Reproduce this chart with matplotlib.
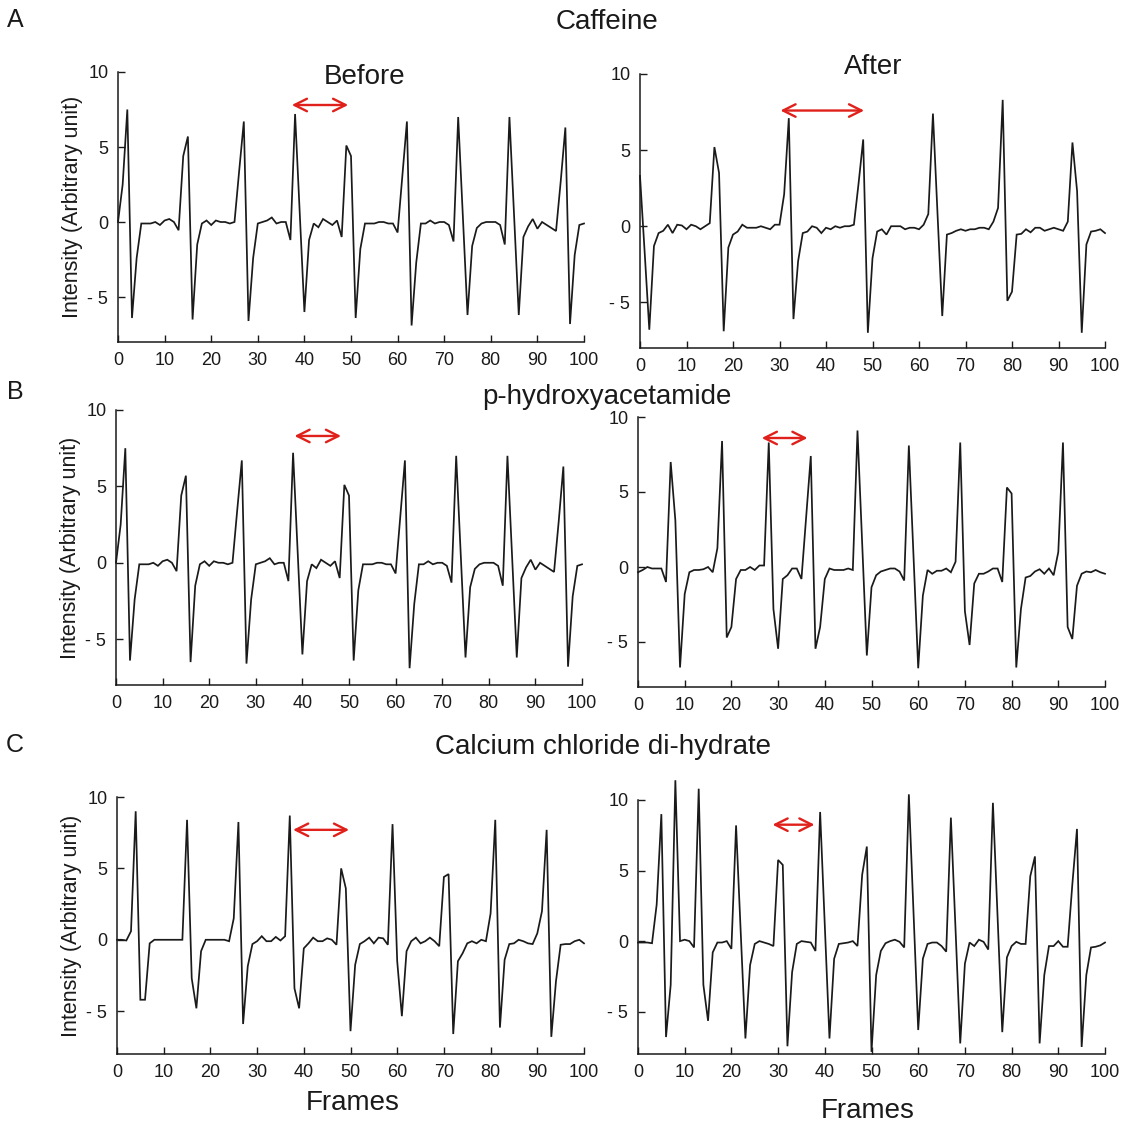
import matplotlib
matplotlib.use("Agg")
import matplotlib.pyplot as plt

plt.rcParams['font.family'] = ['Liberation Sans', 'DejaVu Sans']

# ---------------- data ----------------
frames = list(range(101))

caffeine_before = [
    0.0, 2.5, 7.5, -6.4, -2.4, -0.1, -0.1, -0.1, 0.0, -0.2,
    0.1, 0.2, 0.0, -0.55, 4.4, 5.7, -6.5, -1.5, -0.1, 0.1,
    -0.2, 0.1, 0.0, 0.0, -0.1, 0.0, 3.4, 6.7, -6.6, -2.4,
    -0.1, 0.0, 0.1, 0.3, -0.1, 0.0, 0.0, -1.2, 7.2, 0.6,
    -6.0, -1.2, -0.1, -0.35, 0.2, 0.0, -0.2, 0.1, -1.0, 5.1,
    4.4, -6.4, -1.8, -0.1, -0.1, -0.1, 0.0, 0.0, -0.1, -0.1,
    -0.7, 3.0, 6.7, -6.9, -2.7, -0.1, -0.1, 0.1, -0.1, 0.0,
    0.0, -0.2, -1.3, 7.0, 0.4, -6.2, -1.6, -0.4, -0.1, 0.0,
    0.0, 0.0, -0.2, -1.5, 7.0, 0.4, -6.2, -1.0, -0.3, 0.2,
    -0.45, 0.0, -0.2, -0.4, -0.6, 2.7, 6.3, -6.8, -2.2, -0.2,
    -0.1]

caffeine_after = [
    3.3, -1.7, -6.8, -1.3, -0.45, -0.3, 0.1, -0.45, 0.1, 0.05,
    -0.2, 0.1, 0.0, -0.2, 0.0, 0.2, 5.2, 3.5, -6.9, -1.4,
    -0.55, -0.35, 0.1, -0.1, -0.1, -0.1, 0.0, -0.1, -0.2, 0.1,
    0.1, 2.1, 7.1, -6.1, -2.3, -0.45, -0.35, 0.0, -0.1, -0.45,
    -0.1, -0.2, 0.0, -0.1, 0.0, 0.0, 0.1, 2.8, 5.7, -7.0,
    -2.1, -0.35, -0.2, -0.55, 0.0, 0.0, 0.0, -0.2, -0.1, -0.1,
    -0.2, 0.1, 0.8, 7.4, 0.7, -5.9, -0.55, -0.45, -0.3, -0.2,
    -0.3, -0.2, -0.2, -0.1, -0.1, -0.2, 0.3, 1.2, 8.3, -4.9,
    -4.3, -0.55, -0.5, -0.2, -0.4, -0.1, -0.1, -0.3, -0.2, -0.1,
    -0.2, -0.3, 0.3, 5.5, 2.3, -7.0, -1.2, -0.35, -0.3, -0.2,
    -0.45]

# the "before" trace of panel B is the same recording as panel A
hydroxy_before = list(caffeine_before)

hydroxy_after = [
    -0.35, -0.2, 0.0, -0.1, -0.1, -0.1, -1.0, 7.0, 3.1, -6.7,
    -1.8, -0.35, -0.2, -0.2, -0.15, 0.0, -0.35, 1.25, 8.4, -4.7,
    -4.0, -0.8, -0.2, -0.2, 0.0, -0.2, 0.1, 0.1, 8.3, -2.8,
    -5.45, -0.8, -0.55, -0.1, -0.1, -0.8, 3.3, 7.4, -5.45, -4.0,
    -0.8, -0.1, -0.2, -0.2, -0.2, -0.1, -0.2, 9.1, 1.6, -5.9,
    -1.35, -0.55, -0.3, -0.2, -0.1, -0.1, -0.3, -0.9, 8.1, 0.7,
    -6.75, -1.9, -0.2, -0.45, -0.25, -0.25, -0.1, -0.35, 0.35, 8.3,
    -2.95, -5.2, -1.1, -0.45, -0.45, -0.3, -0.1, -0.1, -1.0, 5.3,
    4.9, -6.7, -2.8, -0.7, -0.6, -0.3, -0.15, -0.45, -0.1, -0.55,
    1.0, 8.3, -4.0, -4.8, -1.25, -0.45, -0.3, -0.35, -0.2, -0.35,
    -0.45]

calcium_before = [
    0.0, 0.0, -0.05, 0.6, 9.0, -4.2, -4.2, -0.25, 0.0, 0.0,
    0.0, 0.0, 0.0, 0.0, 0.0, 8.4, -2.7, -4.8, -0.8, 0.0,
    0.0, 0.0, 0.0, 0.0, -0.1, 1.5, 8.25, -5.9, -1.85, -0.3,
    -0.1, 0.25, -0.1, -0.1, 0.2, -0.05, 0.25, 8.7, -3.4, -4.8,
    -0.6, -0.25, 0.15, -0.1, -0.1, 0.1, 0.0, -0.35, 5.0, 3.6,
    -6.4, -1.75, -0.3, -0.1, 0.15, -0.25, 0.15, 0.1, -0.35, 8.1,
    -1.5, -5.35, -0.8, -0.1, 0.15, -0.25, -0.1, 0.15, -0.1, -0.45,
    4.4, 4.6, -6.6, -1.5, -0.95, -0.25, -0.1, -0.25, 0.0, -0.1,
    1.85, 8.4, -6.15, -1.4, -0.3, -0.25, 0.0, -0.1, -0.25, -0.3,
    0.45, 2.0, 7.7, -6.8, -2.9, -0.35, -0.3, -0.3, -0.1, 0.0,
    -0.25]

calcium_after = [
    -0.1, -0.1, -0.1, -0.15, 2.6, 9.0, -6.8, -3.1, 11.4, 0.0,
    0.1, 0.0, -0.45, 10.8, -3.1, -5.65, -0.8, -0.1, -0.1, 0.0,
    -0.55, 8.2, 0.6, -6.9, -1.7, -0.2, 0.0, -0.1, -0.2, -0.35,
    5.75, 5.4, -7.45, -2.2, -0.2, 0.0, -0.05, -0.1, -0.7, 9.15,
    1.1, -6.9, -1.25, -0.2, -0.15, -0.1, 0.0, -0.35, 4.7, 6.7,
    -7.85, -2.4, -0.7, -0.15, 0.0, 0.1, -0.05, -0.45, 10.4, 2.0,
    -6.3, -1.25, -0.2, -0.1, -0.1, -0.35, -0.75, 8.75, 0.8, -7.25,
    -1.6, -0.1, -0.35, 0.1, -0.05, -0.6, 9.8, 1.7, -6.45, -1.15,
    -0.35, -0.05, -0.2, -0.2, 4.6, 6.0, -7.25, -2.4, -0.35, -0.35,
    0.0, -0.4, -0.4, 4.0, 7.95, -7.5, -2.4, -0.45, -0.4, -0.3,
    -0.1]

# red double arrows (interval between beats): start frame, end frame, height
arrow_start = [37.3, 30.2, 38.3, 26.5, 37.7, 28.8]
arrow_end = [49.4, 48.2, 48.3, 36.3, 49.7, 37.8]
arrow_y = [7.8, 7.6, 8.3, 8.6, 7.7, 8.25]

row_titles = ["Caffeine", "p-hydroxyacetamide", "Calcium chloride di-hydrate"]
row_letters = ["A", "B", "C"]
x_ticks = [0, 10, 20, 30, 40, 50, 60, 70, 80, 90, 100]
y_ticks = [-5, 0, 5, 10]
y_tick_labels = ["- 5", "0", "5", "10"]

series = [caffeine_before, caffeine_after, hydroxy_before,
          hydroxy_after, calcium_before, calcium_after]

# ---------------- layout (pixel boxes: left, right, top, bottom) ----------------
W, H = 1135, 1124
boxes = [
    (118, 584, 72, 342),
    (640, 1105, 74, 348),
    (116, 582, 410, 685),
    (638, 1105, 417, 687),
    (117, 584, 797, 1054),
    (638, 1105, 800, 1054),
]

fig = plt.figure(figsize=(W / 100, H / 100), dpi=100)
fig.patch.set_facecolor("white")

def fx(px):
    return px / W

def fy(py):
    return 1 - py / H

for i, (vals, box) in enumerate(zip(series, boxes)):
    l, r, t, b = box
    ax = fig.add_axes([fx(l), fy(b), (r - l) / W, (b - t) / H])
    ax.plot(frames, vals, color="#1a1a1a", lw=1.25, clip_on=False,
            solid_joinstyle="miter")
    ax.set_xlim(0, 100)
    ax.set_ylim(-8, 10)
    ax.set_xticks(x_ticks)
    ax.set_yticks(y_ticks)
    ax.set_yticklabels(y_tick_labels)
    ax.tick_params(direction="in", length=5, width=1, labelsize=13,
                   colors="#1a1a1a", pad=7)
    for s in ["top", "right"]:
        ax.spines[s].set_visible(False)
    for s in ["left", "bottom"]:
        ax.spines[s].set_linewidth(1.1)
        ax.spines[s].set_color("#1a1a1a")
    ax.patch.set_alpha(0)
    if i % 2 == 0:
        ax.set_ylabel("Intensity (Arbitrary unit)", fontsize=15.5,
                      color="#1a1a1a", labelpad=3)
    ax.annotate("", xy=(arrow_end[i], arrow_y[i]),
                xytext=(arrow_start[i], arrow_y[i]),
                arrowprops=dict(arrowstyle="<->,head_length=0.9,head_width=0.45",
                                color="#e0201a", lw=1.7,
                                shrinkA=0, shrinkB=0),
                annotation_clip=False)

# row letters and titles
letter_y = [20, 392, 745]
title_pos = [(607, 22), (607, 397), (603, 747)]
for k in range(3):
    fig.text(fx(15), fy(letter_y[k]), row_letters[k], fontsize=18,
             ha="center", va="center", color="#1a1a1a")
    fig.text(fx(title_pos[k][0]), fy(title_pos[k][1]), row_titles[k],
             fontsize=20, ha="center", va="center", color="#1a1a1a")

fig.text(fx(365), fy(77), "Before", fontsize=20, ha="center", va="center",
         color="#1a1a1a")
fig.text(fx(873), fy(67), "After", fontsize=20, ha="center", va="center",
         color="#1a1a1a")
fig.text(fx(353), fy(1103), "Frames", fontsize=20, ha="center", va="center",
         color="#1a1a1a")
fig.text(fx(868), fy(1111), "Frames", fontsize=20, ha="center", va="center",
         color="#1a1a1a")

fig.savefig("out.png", dpi=100, facecolor="white")
